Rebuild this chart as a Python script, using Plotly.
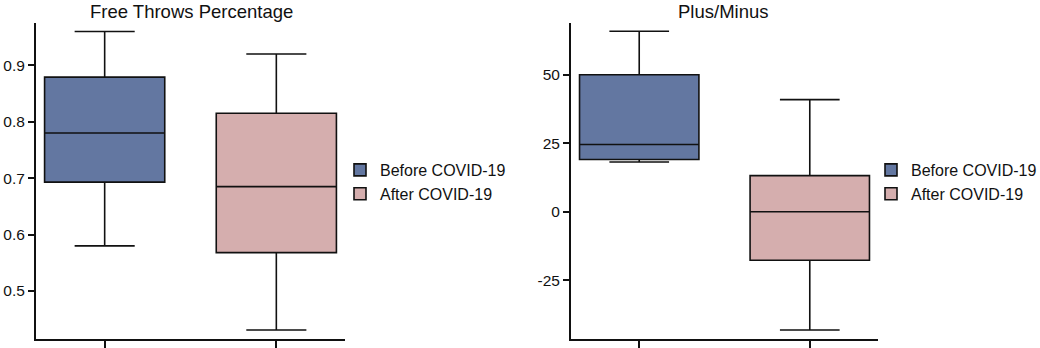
import plotly.graph_objects as go

groups = ["Before COVID-19", "After COVID-19"]
colors = ["#6377a1", "#d5aeae"]

# Free Throws Percentage: [lowerfence, q1, median, q3, upperfence]
ft_lower = [0.58, 0.431]
ft_q1 = [0.693, 0.568]
ft_median = [0.78, 0.685]
ft_q3 = [0.879, 0.815]
ft_upper = [0.96, 0.92]

# Plus/Minus
pm_lower = [18.2, -43.2]
pm_q1 = [19.1, -17.7]
pm_median = [24.6, 0.0]
pm_q3 = [50.1, 13.2]
pm_upper = [66.0, 41.0]

ft_ticks = [0.5, 0.6, 0.7, 0.8, 0.9]
pm_ticks = [-25, 0, 25, 50]

W, H = 1040, 348
FONT = "Liberation Sans, Arial, Helvetica, sans-serif"

fig = go.Figure()

def add_boxes(lower, q1, med, q3, upper, xa, ya, legend):
    for i, g in enumerate(groups):
        fig.add_trace(go.Box(
            name=g, x=[g],
            lowerfence=[lower[i]], q1=[q1[i]], median=[med[i]],
            q3=[q3[i]], upperfence=[upper[i]],
            fillcolor=colors[i], line=dict(color="#111111", width=1.6),
            width=0.7, whiskerwidth=0.5,
            xaxis=xa, yaxis=ya, legend=legend, showlegend=True,
            boxpoints=False,
        ))

add_boxes(ft_lower, ft_q1, ft_median, ft_q3, ft_upper, "x", "y", "legend")
add_boxes(pm_lower, pm_q1, pm_median, pm_q3, pm_upper, "x2", "y2", "legend2")

px = lambda v: v / W
py = lambda v: 1 - v / H

axis_common = dict(showline=True, linecolor="#111111", linewidth=2,
                   ticks="outside", tickcolor="#111111", tickwidth=2,
                   showgrid=False, zeroline=False, automargin=False,
                   tickfont=dict(family=FONT, size=15.5, color="#111111"))

legend_common = dict(xanchor="left", yanchor="middle",
                     font=dict(family=FONT, size=16, color="#111111"),
                     tracegroupgap=0, bgcolor="rgba(0,0,0,0)")

fig.update_layout(
    width=W, height=H,
    margin=dict(l=0, r=0, t=0, b=0, autoexpand=False),
    paper_bgcolor="white", plot_bgcolor="white",
    boxmode="overlay",
    font=dict(family=FONT, color="#111111"),
    xaxis=dict(domain=[px(36), px(345)], anchor="y", range=[-0.4, 1.4],
               categoryorder="array", categoryarray=groups,
               showticklabels=False, ticklen=7, **axis_common),
    yaxis=dict(domain=[py(339), py(23)], anchor="x", range=[0.415, 0.975],
               tickvals=ft_ticks, ticktext=[f"{t:.1f}" for t in ft_ticks],
               ticklen=6, **axis_common),
    xaxis2=dict(domain=[px(571), px(878)], anchor="y2", range=[-0.4, 1.4],
                categoryorder="array", categoryarray=groups,
                showticklabels=False, ticklen=7, **axis_common),
    yaxis2=dict(domain=[py(339), py(23)], anchor="x2", range=[-46.5, 69],
                tickvals=pm_ticks, ticktext=[str(t) for t in pm_ticks],
                ticklen=6, **axis_common),
    legend=dict(x=px(340), y=py(182), **legend_common),
    legend2=dict(x=px(871), y=py(182), **legend_common),
    annotations=[
        dict(text="Free Throws Percentage", x=px(191), y=py(11), xref="paper", yref="paper",
             xanchor="center", yanchor="middle", showarrow=False,
             font=dict(family=FONT, size=18.5, color="#111111")),
        dict(text="Plus/Minus", x=px(723), y=py(11), xref="paper", yref="paper",
             xanchor="center", yanchor="middle", showarrow=False,
             font=dict(family=FONT, size=18.5, color="#111111")),
    ],
)

fig.write_html("out.html",
               config={"displayModeBar": False},
               post_script="document.body.style.margin='0';document.body.style.padding='0';")
